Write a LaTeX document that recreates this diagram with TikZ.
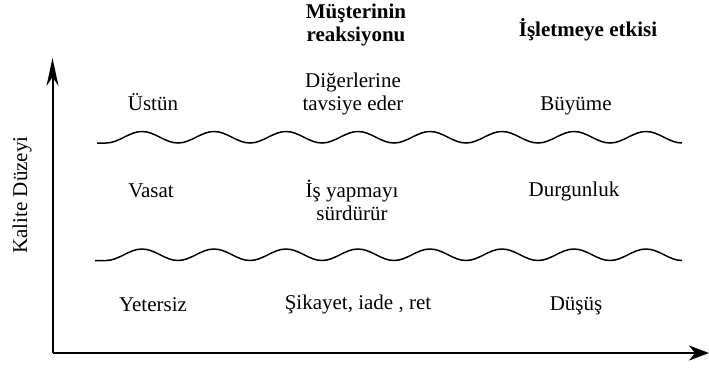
\documentclass[tikz,border=0pt]{standalone}
\usepackage{fontspec}
\setmainfont{Liberation Serif}
\usepackage{tikz}
\usetikzlibrary{arrows.meta}

\tikzset{
	lbl/.style={font=\fontsize{21}{22.5}\selectfont, align=center, anchor=base, inner sep=0pt},
	hdr/.style={lbl, font=\fontsize{21}{22.5}\selectfont\bfseries},
	axis/.style={line width=2pt},
	wave/.style={line width=1.5pt}
}
% one period of the border line, 72 wide
\def\wavy{cos ++(18,-5.75) sin ++(18,-5.75) cos ++(18,5.75) sin ++(18,5.75)}

\begin{document}
\begin{tikzpicture}[x=1pt, y=-1pt]
		\useasboundingbox (0,0) rectangle (709,367);
		% axes
		\coordinate (O) at (52.5,353);
		\coordinate (ytop) at (52.5,58);
		\coordinate (xend) at (709,353);
		\draw[axis, -{Stealth[length=28pt, width=12pt, inset=9pt]}] (O) -- (ytop);
		\draw[axis, -{Stealth[length=20pt, width=15pt, inset=6pt]}] (O) -- (xend);
		\node[lbl, anchor=center, rotate=90] (Kalite) at (22,195) {Kalite Düzeyi};
		% headers
		\node[hdr] (Hreak) at (356,41) {Müşterinin\\reaksiyonu};
		\node[hdr] (Hetki) at (588,36) {İşletmeye etkisi};
		% level borders
		\coordinate (W1) at (97,143);
		\coordinate (W2) at (95,260.5);
		\draw[wave] (W1) -- ++(9,0) \foreach \k in {1,...,8} {\wavy};
		\draw[wave] (W2) -- ++(11,0) \foreach \k in {1,...,8} {\wavy};
		% upper row
		\node[lbl] (Ustun) at (153,110) {Üstün};
		\node[lbl] (Tavsiye) at (353,110) {Diğerlerine\\tavsiye eder};
		\node[lbl] (Buyume) at (576,110) {Büyüme};
		% middle row
		\node[lbl] (Vasat) at (151,197) {Vasat};
		\node[lbl] (Surdur) at (352,220) {İş yapmayı\\sürdürür};
		\node[lbl] (Durgun) at (574,196) {Durgunluk};
		% lower row
		\node[lbl] (Yetersiz) at (153,311) {Yetersiz};
		\node[lbl] (Sikayet) at (358,309) {Şikayet, iade , ret};
		\node[lbl] (Dusus) at (576,310) {Düşüş};
\end{tikzpicture}
\end{document}
